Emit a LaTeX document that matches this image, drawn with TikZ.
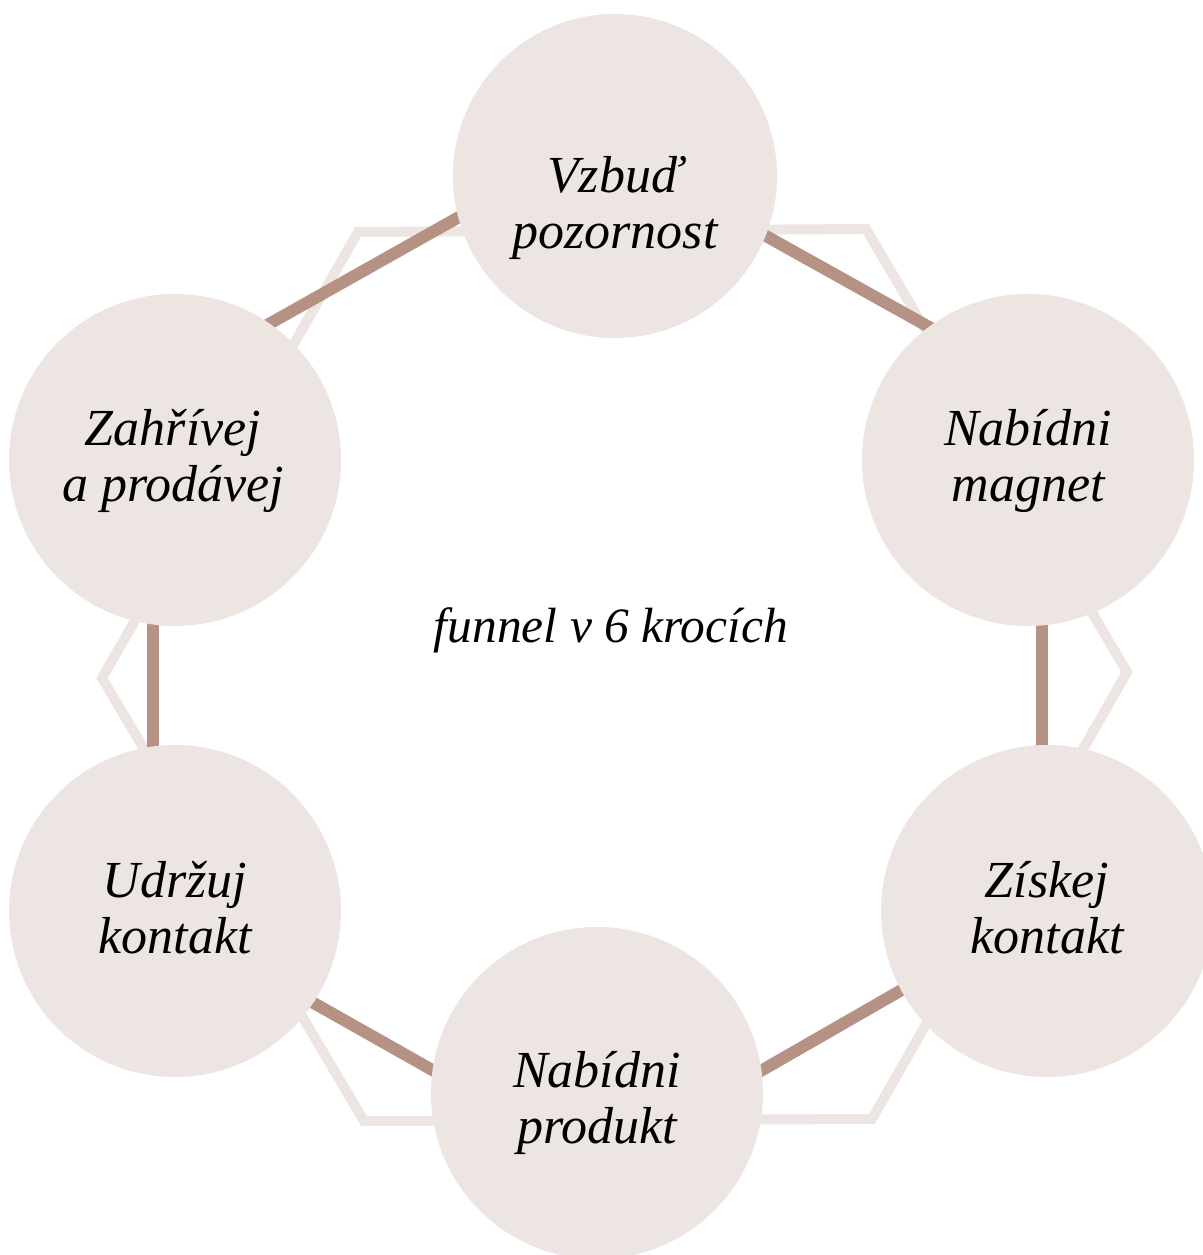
\documentclass[tikz,border=0pt]{standalone}
\usepackage{fontspec}
\setmainfont{Liberation Serif}
\definecolor{lightc}{HTML}{ECE5E1}
\definecolor{darkc}{HTML}{B69284}
\tikzset{
  hexline/.style={draw=lightc, line width=10pt, line join=miter},
  link/.style={draw=darkc, line width=12pt},
  bubble/.style={circle, fill=lightc, inner sep=0pt},
  label/.style={align=center, inner sep=0pt, font=\fontsize{52}{56}\selectfont\itshape},
  midlabel/.style={align=center, inner sep=0pt, font=\fontsize{49.5}{56}\selectfont\itshape},
}
\newcommand{\ls}{\strut}
\begin{document}
\begin{tikzpicture}[x=1pt,y=-1pt]
\useasboundingbox (0,0) rectangle (1202,1255);
% hexagon
\draw[hexline] (358,232) -- (866,229) -- (1127,672) -- (872,1119) -- (364,1121) -- (102,678) -- cycle;
% connector endpoints
\coordinate (a1) at (253,333); \coordinate (a2) at (475,208);
\coordinate (b1) at (748,226); \coordinate (b2) at (947,337);
\coordinate (c1) at (1042,615); \coordinate (c2) at (1042,760);
\coordinate (d1) at (919,980); \coordinate (d2) at (745,1080);
\coordinate (e1) at (296,993); \coordinate (e2) at (450,1080);
\coordinate (f1) at (153,615); \coordinate (f2) at (153,760);
\draw[link] (a1) -- (a2);
\draw[link] (b1) -- (b2);
\draw[link] (c1) -- (c2);
\draw[link] (d1) -- (d2);
\draw[link] (e1) -- (e2);
\draw[link] (f1) -- (f2);
% circles
\node[bubble, minimum size=324pt] (top) at (615,176) {};
\node[bubble, minimum size=332pt] (rt) at (1028,460) {};
\node[bubble, minimum size=332pt] (rb) at (1047,911) {};
\node[bubble, minimum size=332pt] (bot) at (597,1093) {};
\node[bubble, minimum size=332pt] (lb) at (175,911) {};
\node[bubble, minimum size=332pt] (lt) at (175,460) {};
% labels
\node[label] (ttop) at (615,209) {\ls Vzbuď\\\ls pozornost};
\node[label] (trt) at (1028,462) {\ls Nabídni\\\ls magnet};
\node[label] (trb) at (1047,914) {\ls Získej\\\ls kontakt};
\node[label] (tbot) at (597,1104) {\ls Nabídni\\\ls produkt};
\node[label] (tlb) at (175,914) {\ls Udržuj\\\ls kontakt};
\node[label] (tlt) at (173,462) {\ls Zahřívej\\\ls a prodávej};
\node[midlabel] (center) at (611,631) {\ls funnel v 6 krocích};
\end{tikzpicture}
\end{document}
